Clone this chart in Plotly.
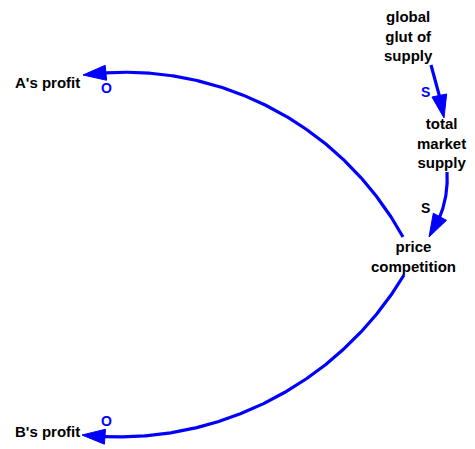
import numpy as np
import plotly.graph_objects as go

# ---- diagram content ----
node_labels = ["A's profit", "B's profit", "global<br>glut of<br>supply",
               "total<br>market<br>supply", "price<br>competition"]
node_x = [47, 47, 408, 441, 413]
node_y = [82, 431, 36, 143, 256]

# links: start, via, end (arrow tip)
link_start_x = [403, 404, 431, 447]
link_start_y = [237, 275, 65, 172]
link_via_x = [300, 300, 438, 445]
link_via_y = [125, 383, 90, 200]
link_end_x = [83, 82, 444, 429]
link_end_y = [75, 435, 118, 237]

polarity_text = ["O", "O", "S", "S"]
polarity_x = [106, 106, 425, 425]
polarity_y = [88, 421, 92, 208]
polarity_color = ["#0000FF", "#0000FF", "#0000FF", "#000000"]

BLUE = "#0000FF"
FONT = "Arial, Liberation Sans, sans-serif"
HEAD_LEN = 23
HEAD_HALF = 7.5


def circle_through(p1, p2, p3):
    ax, ay = p1
    bx, by = p2
    cx, cy = p3
    d = 2 * (ax * (by - cy) + bx * (cy - ay) + cx * (ay - by))
    ux = ((ax**2 + ay**2) * (by - cy) + (bx**2 + by**2) * (cy - ay) + (cx**2 + cy**2) * (ay - by)) / d
    uy = ((ax**2 + ay**2) * (cx - bx) + (bx**2 + by**2) * (ax - cx) + (cx**2 + cy**2) * (bx - ax)) / d
    return ux, uy, np.hypot(ax - ux, ay - uy)


def arc_points(p0, p1, p2, n=300):
    cx, cy, r = circle_through(p0, p1, p2)
    a0 = np.arctan2(p0[1] - cy, p0[0] - cx)
    a1 = np.arctan2(p1[1] - cy, p1[0] - cx)
    a2 = np.arctan2(p2[1] - cy, p2[0] - cx)
    tp = 2 * np.pi
    d1 = (a1 - a0) % tp
    d2 = (a2 - a0) % tp
    sweep = d2 if d1 < d2 else -(tp - d2)
    t = np.linspace(0, 1, n)
    ang = a0 + sweep * t
    return cx + r * np.cos(ang), cy + r * np.sin(ang), r * abs(sweep)


fig = go.Figure()

for i in range(len(link_start_x)):
    p0 = (link_start_x[i], link_start_y[i])
    p1 = (link_via_x[i], link_via_y[i])
    p2 = (link_end_x[i], link_end_y[i])
    xs, ys, length = arc_points(p0, p1, p2)
    s = np.linspace(0, length, len(xs))
    keep = s <= length - HEAD_LEN + 3
    fig.add_trace(go.Scatter(x=xs[keep], y=ys[keep], mode="lines",
                             line=dict(color=BLUE, width=3.2),
                             hoverinfo="skip", showlegend=False))
    # arrowhead
    bidx = np.argmin(np.abs(s - (length - HEAD_LEN)))
    bx, by = xs[bidx], ys[bidx]
    tx, ty = p2
    dx, dy = tx - bx, ty - by
    norm = np.hypot(dx, dy)
    ux, uy = dx / norm, dy / norm
    bx, by = tx - ux * HEAD_LEN, ty - uy * HEAD_LEN
    px, py = -uy, ux
    tri_x = [tx, bx + px * HEAD_HALF, bx - px * HEAD_HALF, tx]
    tri_y = [ty, by + py * HEAD_HALF, by - py * HEAD_HALF, ty]
    fig.add_trace(go.Scatter(x=tri_x, y=tri_y, mode="lines", fill="toself",
                             fillcolor=BLUE, line=dict(color=BLUE, width=1),
                             hoverinfo="skip", showlegend=False))

for lab, x, y in zip(node_labels, node_x, node_y):
    fig.add_annotation(x=x, y=y, text="<b>" + lab + "</b>", showarrow=False,
                       xanchor="center", yanchor="middle", align="center",
                       font=dict(family=FONT, size=15, color="#000000"))

for t, x, y, c in zip(polarity_text, polarity_x, polarity_y, polarity_color):
    fig.add_annotation(x=x, y=y, text="<b>" + t + "</b>", showarrow=False,
                       xanchor="center", yanchor="middle",
                       font=dict(family=FONT, size=14, color=c))

fig.update_layout(
    width=475, height=449,
    margin=dict(l=0, r=0, t=0, b=0),
    paper_bgcolor="white", plot_bgcolor="white",
    xaxis=dict(range=[0, 475], visible=False, fixedrange=True),
    yaxis=dict(range=[449, 0], visible=False, fixedrange=True),
)

fig.write_html("out.html",
               config={"displayModeBar": False, "staticPlot": True},
               post_script="document.body.style.margin='0px';"
                           "document.body.style.overflow='hidden';")
